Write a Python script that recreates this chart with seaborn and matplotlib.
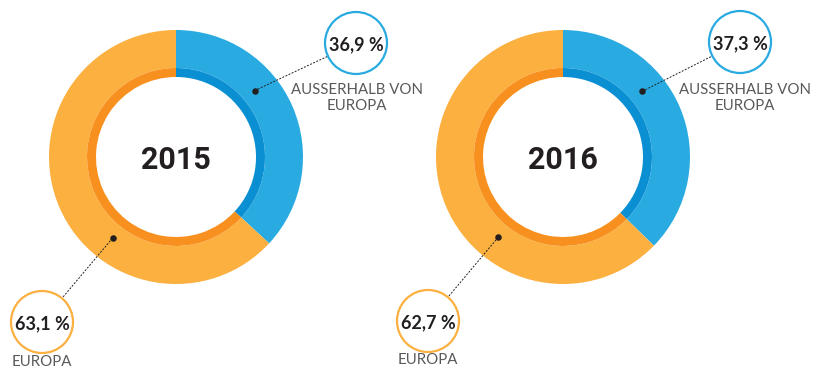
import numpy as np
import matplotlib
matplotlib.use("Agg")
import matplotlib.pyplot as plt
from matplotlib.patches import Circle
import seaborn as sns

# Shares of visitors by origin, per year
years = ["2015", "2016"]
outside_europe = [36.9, 37.3]
europe = [63.1, 62.7]
outside_label = "AUSSERHALB VON\nEUROPA"
europe_label = "EUROPA"

sns.set_theme(style="white")

W, H = 824, 372
BLUE, BLUE_DARK = "#29ABE2", "#0A8FD3"
ORANGE, ORANGE_DARK = "#FBB040", "#F7901E"
INK, GREY = "#231F20", "#58595B"

fig = plt.figure(figsize=(W / 100, H / 100), dpi=100)
ax = fig.add_axes([0, 0, 1, 1])


def fmt(v):
    return f"{v:.1f}".replace(".", ",") + " %"


# layout of each donut (pixel coordinates, y from the top)
layout = [
    dict(cx=176, cy=157, blue_c=(356, 43), orange_c=(42, 322),
         blue_lbl=(357, 98), orange_lbl=(42, 362)),
    dict(cx=563, cy=157, blue_c=(740, 42), orange_c=(428, 321),
         blue_lbl=(745, 98), orange_lbl=(428, 360)),
]

R_OUT, R_MID, R_IN = 127, 89, 80
R_DOT = 103
DOT_FRAC = 0.375  # how far along each wedge its callout dot sits

for year, out_v, eu_v, L in zip(years, outside_europe, europe, layout):
    center = (L["cx"], H - L["cy"])
    vals = [out_v, eu_v]
    ax.pie(vals, colors=[BLUE, ORANGE], startangle=90, counterclock=False,
           radius=R_OUT, center=center,
           wedgeprops=dict(width=R_OUT - R_MID, linewidth=0))
    ax.pie(vals, colors=[BLUE_DARK, ORANGE_DARK], startangle=90,
           counterclock=False, radius=R_MID, center=center,
           wedgeprops=dict(width=R_MID - R_IN, linewidth=0))
    ax.text(center[0], center[1], year, ha="center", va="center_baseline",
            fontsize=22, fontweight="bold", family="Roboto", color=INK)

    # callouts: dot on the ring, dashed leader, ringed value, caption
    ang_out = 90 - 360 * out_v / 100 * DOT_FRAC
    ang_eu = 90 - 360 * (out_v + eu_v * DOT_FRAC) / 100
    for v, ang, cc, col, lbl, lpos in [
        (out_v, ang_out, L["blue_c"], BLUE, outside_label, L["blue_lbl"]),
        (eu_v, ang_eu, L["orange_c"], ORANGE, europe_label, L["orange_lbl"]),
    ]:
        a = np.deg2rad(ang)
        dx, dy = center[0] + R_DOT * np.cos(a), center[1] + R_DOT * np.sin(a)
        ccx, ccy = cc[0], H - cc[1]
        r_c = 31
        vx, vy = dx - ccx, dy - ccy
        d = np.hypot(vx, vy)
        ex, ey = ccx + vx / d * r_c, ccy + vy / d * r_c
        ax.plot([dx, ex], [dy, ey], color=INK, lw=0.7, ls=(0, (2, 1.5)),
                zorder=4)
        ax.scatter([dx], [dy], s=22, color=INK, zorder=5, linewidths=0)
        ax.add_patch(Circle((ccx, ccy), r_c, facecolor="white",
                            edgecolor=col, lw=1.6, zorder=6))
        ax.text(ccx, ccy, fmt(v), ha="center", va="center_baseline",
                fontsize=13, fontweight="bold", family="Lato", color=INK,
                zorder=7)
        ax.text(lpos[0], H - lpos[1], lbl, ha="center", va="center",
                fontsize=10.8, family="Lato", fontweight="normal", color=GREY,
                linespacing=1.25, zorder=7)

ax.set_xlim(0, W)
ax.set_ylim(0, H)
ax.set_aspect("equal")
ax.axis("off")
fig.savefig("out.png", dpi=100, facecolor="white")
